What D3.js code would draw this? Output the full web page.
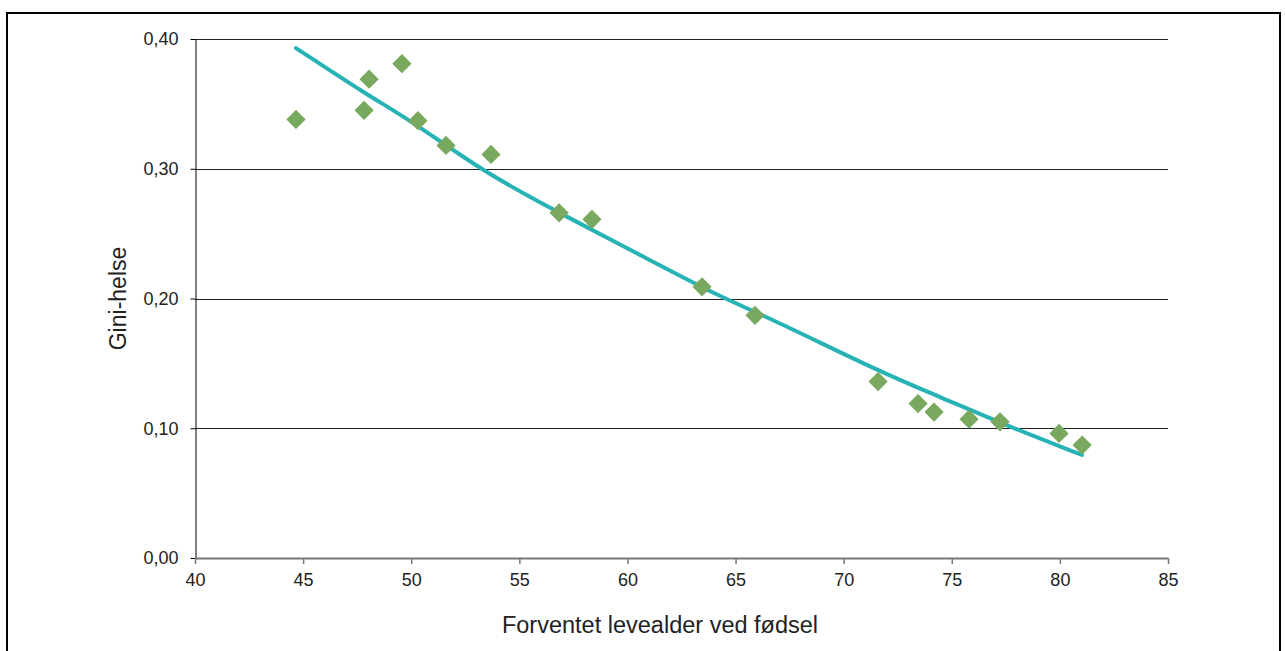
<!DOCTYPE html>
<html>
<head>
<meta charset="utf-8">
<script src="https://cdn.jsdelivr.net/npm/d3@7"></script>
<style>
  body { margin: 0; background: #fff; }
  svg { display: block; font-family: "Liberation Sans", Arial, sans-serif; }
</style>
</head>
<body>
<script>
// Forventet levealder (x) og Gini-helse (y), lest av figuren
const lifeExp = [44.67, 47.82, 48.05, 49.57, 50.31, 51.61, 53.69, 56.84, 58.36,
                 63.45, 65.9, 71.59, 73.44, 74.18, 75.8, 77.23, 79.96, 81.03];
const gini = [0.338, 0.345, 0.369, 0.381, 0.337, 0.318, 0.311, 0.266, 0.261,
              0.209, 0.187, 0.136, 0.119, 0.1125, 0.107, 0.105, 0.096, 0.087];

// trendlinje, lest av figuren
const trendX = [44.67, 47.95, 49.94, 53.04, 55.49, 56.79, 61.04, 64.28, 66.59, 71.68, 74.46, 77.69, 81.02];
const trendY = [0.393, 0.357, 0.3376, 0.3013, 0.2782, 0.2665, 0.2297, 0.2012, 0.185, 0.1434, 0.1241, 0.101, 0.0794];

const xTicks = [40, 45, 50, 55, 60, 65, 70, 75, 80, 85];
const yTicks = [0, 0.1, 0.2, 0.3, 0.4];

const width = 1285;
const height = 651;
const margin = {top: 39, right: 117, bottom: 93, left: 195};

const svg = d3.select("body").append("svg")
    .attr("width", width)
    .attr("height", height);

// outer frame
svg.append("rect")
    .attr("x", 7).attr("y", 13)
    .attr("width", 1273).attr("height", 660)
    .attr("fill", "none")
    .attr("stroke", "#000")
    .attr("stroke-width", 2);

const x = d3.scaleLinear().domain([40, 85]).range([margin.left, width - margin.right]);
const y = d3.scaleLinear().domain([0, 0.4]).range([height - margin.bottom, margin.top]);

const fmt = d => d3.format(".2f")(d).replace(".", ",");

// gridlines
svg.append("g")
  .selectAll("line")
  .data(yTicks.filter(d => d > 0))
  .join("line")
    .attr("x1", x(40)).attr("x2", x(85))
    .attr("y1", d => Math.round(y(d)) + 0.5)
    .attr("y2", d => Math.round(y(d)) + 0.5)
    .attr("stroke", "#222")
    .attr("stroke-width", 1);

// y axis
const yAxis = svg.append("g")
    .attr("transform", `translate(${margin.left + 0.5},0)`)
    .call(d3.axisLeft(y).tickValues(yTicks).tickFormat(fmt).tickSize(5).tickSizeOuter(0));
yAxis.select(".domain").attr("stroke", "#000");
yAxis.selectAll(".tick line").attr("stroke", "#000");
yAxis.selectAll("text")
    .attr("font-size", 18)
    .attr("fill", "#222")
    .attr("x", -17)
    .attr("font-family", "Liberation Sans, Arial, sans-serif");

// x axis
const xAxis = svg.append("g")
    .attr("transform", `translate(0,${height - margin.bottom})`)
    .call(d3.axisBottom(x).tickValues(xTicks).tickSize(6).tickSizeOuter(0));
xAxis.select(".domain").attr("stroke", "#777").attr("stroke-width", 2);
xAxis.selectAll(".tick line").attr("stroke", "#777").attr("stroke-width", 1.5);
xAxis.selectAll("text")
    .attr("font-size", 18)
    .attr("fill", "#222")
    .attr("y", 15)
    .attr("font-family", "Liberation Sans, Arial, sans-serif");

// trend line
const trend = trendX.map((d, i) => [d, trendY[i]]);
svg.append("path")
    .datum(trend)
    .attr("fill", "none")
    .attr("stroke", "#27b3b5")
    .attr("stroke-width", 4)
    .attr("stroke-linecap", "round")
    .attr("d", d3.line().x(d => x(d[0])).y(d => y(d[1])).curve(d3.curveBasis));

// diamonds
const diamond = d3.symbol().type(d3.symbolSquare).size(185);
svg.append("g")
  .selectAll("path")
  .data(lifeExp.map((d, i) => [d, gini[i]]))
  .join("path")
    .attr("d", diamond)
    .attr("transform", d => `translate(${x(d[0])},${y(d[1])}) rotate(45)`)
    .attr("fill", "#79a85f");

// axis titles
svg.append("text")
    .attr("x", 660)
    .attr("y", 633)
    .attr("text-anchor", "middle")
    .attr("font-size", 23.5)
    .attr("fill", "#222")
    .text("Forventet levealder ved fødsel");

svg.append("text")
    .attr("transform", `translate(126,${(y(0) + y(0.4)) / 2}) rotate(-90)`)
    .attr("text-anchor", "middle")
    .attr("font-size", 23)
    .attr("fill", "#222")
    .text("Gini-helse");
</script>
</body>
</html>
